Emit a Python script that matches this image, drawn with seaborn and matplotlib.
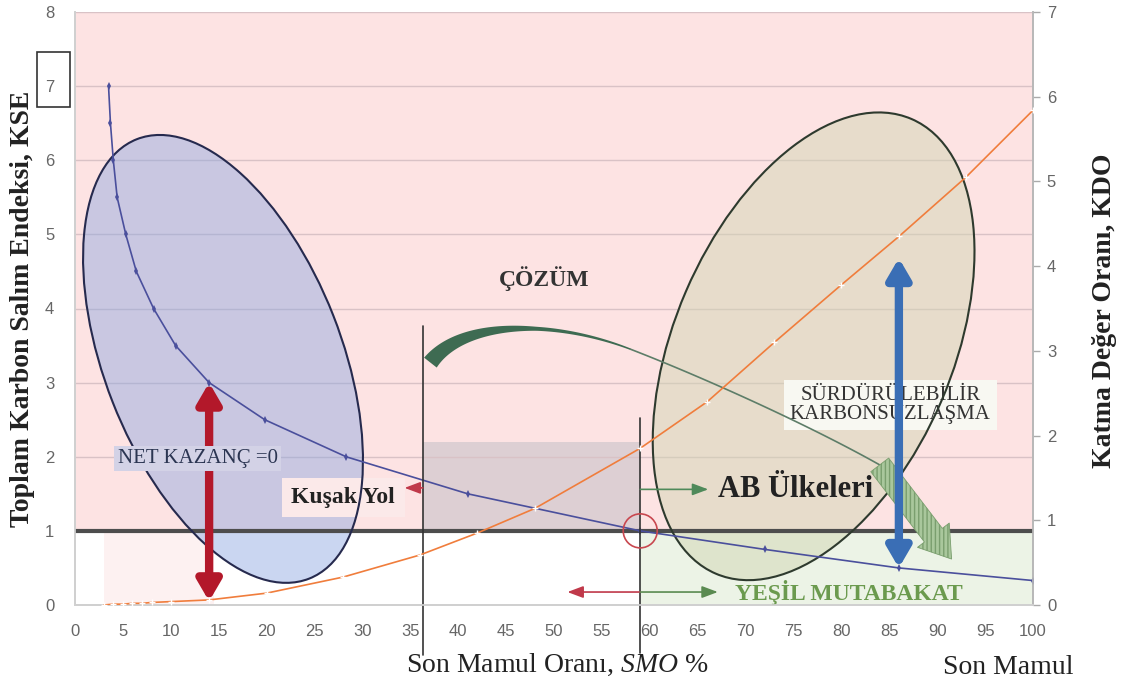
import numpy as np
import pandas as pd
import seaborn as sns
import matplotlib.pyplot as plt
from matplotlib import transforms
from matplotlib.patches import Ellipse, Rectangle, Polygon

# KSE curve (left axis)
smo_kse = [3.5, 3.7, 4.0, 4.4, 5.3, 6.4, 8.2, 10.5, 14, 19.8, 28.3, 41, 59, 72, 86, 100]
kse = [7.0, 6.5, 6.0, 5.5, 5.0, 4.5, 4.0, 3.5, 3.0, 2.5, 2.0, 1.5, 1.0, 0.75, 0.5, 0.33]

# KDO curve (right axis)
smo_kdo = [3, 4, 5, 6, 7, 8, 10, 14, 20, 28, 36, 42, 48, 59, 66, 73, 80, 86, 93, 100]
kdo = [0.0, 0.01, 0.01, 0.02, 0.02, 0.03, 0.04, 0.06, 0.14, 0.33, 0.59, 0.85, 1.14,
       1.85, 2.4, 3.1, 3.78, 4.35, 5.05, 5.84]

x_ticks = list(range(0, 101, 5))
left_ticks = list(range(0, 9))
right_ticks = list(range(0, 8))

SERIF = ['Liberation Serif', 'DejaVu Serif']
TICKF = ['Liberation Sans Narrow', 'Liberation Sans', 'DejaVu Sans']

sns.set_theme(style="white")
plt.rcParams['font.family'] = SERIF
plt.rcParams['mathtext.fontset'] = 'custom'
plt.rcParams['mathtext.rm'] = 'Liberation Serif'
plt.rcParams['mathtext.it'] = 'Liberation Serif:italic'
plt.rcParams['mathtext.bf'] = 'Liberation Serif:bold'

fig = plt.figure(figsize=(11.22, 6.85), dpi=100)
ax = fig.add_axes([75 / 1122, 80 / 685, 958 / 1122, 593 / 685])
ax.set_xlim(0, 100)
ax.set_ylim(0, 8)

# background zones
ax.add_patch(Rectangle((0, 1), 100, 7, facecolor='#fde3e3', edgecolor='none', zorder=0.1))
ax.add_patch(Rectangle((59, 0), 41, 1, facecolor='#ecf3e6', edgecolor='none', zorder=0.1))
ax.add_patch(Rectangle((3, 0), 11.5, 1, facecolor='#fdf1f1', edgecolor='none', zorder=0.1))
ax.add_patch(Rectangle((36.3, 1), 59 - 36.3, 1.2, facecolor='#ddcfd3', edgecolor='none', zorder=0.2))
for g in range(2, 9):
    ax.axhline(g, color='#d9c2c6', lw=1, zorder=0.5)

# ellipses (sizes in inches around a data centre)
def ell(cx, cy, w, h, ang, **kw):
    tr = fig.dpi_scale_trans + transforms.ScaledTranslation(cx, cy, ax.transData)
    ax.add_patch(Ellipse((0, 0), w, h, angle=ang, transform=tr, **kw))

ell(15.45, 3.32, 4.72, 2.37, -68.6, facecolor='#8aa6e0', alpha=0.45, edgecolor='none', zorder=1)
ell(15.45, 3.32, 4.72, 2.37, -68.6, facecolor='none', edgecolor='#262a4e', lw=1.5, zorder=4)
ell(77.1, 3.49, 4.95, 2.78, 66.7, facecolor='#d2d6b4', alpha=0.5, edgecolor='none', zorder=1)
ell(77.1, 3.49, 4.95, 2.78, 66.7, facecolor='none', edgecolor='#2e3a2e', lw=1.5, zorder=4)
ell(59, 1, 0.34, 0.34, 0, facecolor='none', edgecolor='#c8474f', lw=1.2, zorder=6)

# KSE curve
df_kse = pd.DataFrame({'smo': smo_kse, 'kse': kse})
sns.lineplot(data=df_kse, x='smo', y='kse', ax=ax, color='#4a4f9c', lw=1.2,
             marker='d', markersize=4, markeredgewidth=0, zorder=5)
ax.axhline(1, color='#4d4d4d', lw=3, zorder=3)

# vertical markers
ax.plot([36.3, 36.3], [3.77, -0.67], color='#333333', lw=1.2, clip_on=False, zorder=5)
ax.plot([59, 59], [2.52, -0.65], color='#333333', lw=1.2, clip_on=False, zorder=5)

# big vertical arrows
ax.annotate('', xy=(14, 0.05), xytext=(14, 3.0),
            arrowprops=dict(arrowstyle='<|-|>,head_width=0.35,head_length=0.6',
                            color='#b3182a', lw=6, shrinkA=0, shrinkB=0, mutation_scale=20),
            zorder=6)
ax.annotate('', xy=(86, 0.5), xytext=(86, 4.68),
            arrowprops=dict(arrowstyle='<|-|>,head_width=0.35,head_length=0.6',
                            color='#3a6eb5', lw=6, shrinkA=0, shrinkB=0, mutation_scale=20),
            zorder=6)

# small arrows
def small_arrow(x0, x1, y, col):
    ax.annotate('', xy=(x1, y), xytext=(x0, y),
                arrowprops=dict(arrowstyle='-|>,head_width=0.3,head_length=0.8',
                                color=col, lw=1.2, shrinkA=0, shrinkB=0, mutation_scale=12),
                zorder=6)

small_arrow(59, 66.1, 1.56, '#4f8a5a')
small_arrow(59, 51.4, 0.175, '#c0394a')
small_arrow(59, 67.1, 0.175, '#5a8a50')
small_arrow(36.3, 34.4, 1.58, '#c0394a')

# curved green arrow (tapered tail + striped head)
def bez(p, n=80):
    p = np.array(p, dtype=float)
    t = np.linspace(0, 1, n)[:, None]
    return (1 - t) ** 3 * p[0] + 3 * (1 - t) ** 2 * t * p[1] + 3 * (1 - t) * t ** 2 * p[2] + t ** 3 * p[3]

def band(pts, widths):
    disp = ax.transData.transform(pts)
    d = np.gradient(disp, axis=0)
    nrm = np.stack([-d[:, 1], d[:, 0]], 1)
    nrm /= np.linalg.norm(nrm, axis=1)[:, None]
    a = disp + nrm * widths[:, None] / 2
    b = disp - nrm * widths[:, None] / 2
    return ax.transData.inverted().transform(np.vstack([a, b[::-1]]))

c1 = bez([(37.1, 3.27), (40.5, 3.85), (50, 3.85), (58, 3.45)])
w1 = np.interp(np.linspace(0, 1, len(c1)), [0, 0.3, 0.6, 1], [16, 10, 4, 1.5])
ax.add_patch(Polygon(band(c1, w1), closed=True, facecolor='#3e6b52', edgecolor='none', zorder=4))
c2 = bez([(58, 3.45), (66, 3.05), (77, 2.4), (84, 1.89)])
ax.plot(c2[:, 0], c2[:, 1], color='#5d7d68', lw=1.2, zorder=4)
ax.annotate('', xy=(91.5, 0.62), xytext=(84, 1.89),
            arrowprops=dict(arrowstyle='simple,head_width=1.6,tail_width=0.9,head_length=1.2',
                            facecolor='#a9c79c', edgecolor='#7a9e6e', lw=0.6, hatch='||||',
                            shrinkA=0, shrinkB=0, mutation_scale=18),
            zorder=4)

# texts
ax.text(12.8, 1.98, 'NET KAZANÇ =0', fontsize=15, color='#2b3552', ha='center', va='center',
        bbox=dict(boxstyle='square,pad=0.15', facecolor='#d3d2e6', edgecolor='none'), zorder=7)
ax.text(28.0, 1.45, 'Kuşak Yol', fontsize=17, fontweight='bold', color='#222222',
        ha='center', va='center',
        bbox=dict(boxstyle='square,pad=0.4', facecolor='#fbe9e9', edgecolor='none'), zorder=3.5)
ax.text(49, 4.41, 'ÇÖZÜM', fontsize=17, fontweight='bold', color='#333333', ha='center', va='center', zorder=7)
ax.text(67.1, 1.56, 'AB Ülkeleri', fontsize=22, fontweight='bold', color='#222222',
        ha='left', va='center', zorder=7)
ax.text(68.9, 0.175, 'YEŞİL MUTABAKAT', fontsize=17, fontweight='bold', color='#6b9a4e',
        ha='left', va='center', zorder=7)
ax.text(85.1, 2.7, 'SÜRDÜRÜLEBİLİR\nKARBONSUZLAŞMA', fontsize=15, color='#333333',
        ha='center', va='center', linespacing=1.0,
        bbox=dict(boxstyle='square,pad=0.3', facecolor='#f8f8f2', edgecolor='none'), zorder=3.6)

# KDO curve on right axis
ax2 = ax.twinx()
ax2.set_ylim(0, 7)
df_kdo = pd.DataFrame({'smo': smo_kdo, 'kdo': kdo})
sns.lineplot(data=df_kdo, x='smo', y='kdo', ax=ax2, color='#f07d3c', lw=1.2,
             marker='+', markersize=4, markeredgewidth=1, zorder=5)

# axes styling
ax.set_xticks(x_ticks)
ax.set_yticks(left_ticks)
ax2.set_yticks(right_ticks)
for a in (ax, ax2):
    a.tick_params(labelsize=12, colors='#666666')
    for lab in a.get_xticklabels() + a.get_yticklabels():
        lab.set_family(TICKF)
    a.spines['top'].set_visible(False)
    a.spines['left'].set_color('#d0d0d0')
    a.spines['bottom'].set_color('#d0d0d0')
    a.spines['right'].set_color('#b8b8b8')
ax.tick_params(axis='x', length=0, pad=14)
ax.tick_params(axis='y', length=0, pad=15)
ax2.tick_params(axis='y', length=5, width=1, pad=5, direction='out', color='#aaaaaa')
# frame round the "7" tick label
fig.patches.append(Rectangle((37 / 1122, (685 - 107) / 685), 33 / 1122, 55 / 685,
                             transform=fig.transFigure, fill=False,
                             edgecolor='#333333', lw=1.2))

ax.set_xlabel('Son Mamul Oranı, $\\mathit{SMO}$ %', fontsize=20, color='#222222')
ax.xaxis.set_label_coords(0.503, -0.079)
ax.set_ylabel('Toplam Karbon Salım Endeksi, KSE', fontsize=20, fontweight='bold', color='#222222')
ax.yaxis.set_label_coords(-0.042, 0.5)
ax2.set_ylabel('Katma Değer Oranı, KDO', fontsize=20, fontweight='bold', color='#222222')
ax2.yaxis.set_label_coords(1.062, 0.497)
ax.text(0.974, -0.105, 'Son Mamul', transform=ax.transAxes, fontsize=20, color='#222222',
        ha='center', va='center')

fig.savefig('out.png', dpi=100)
